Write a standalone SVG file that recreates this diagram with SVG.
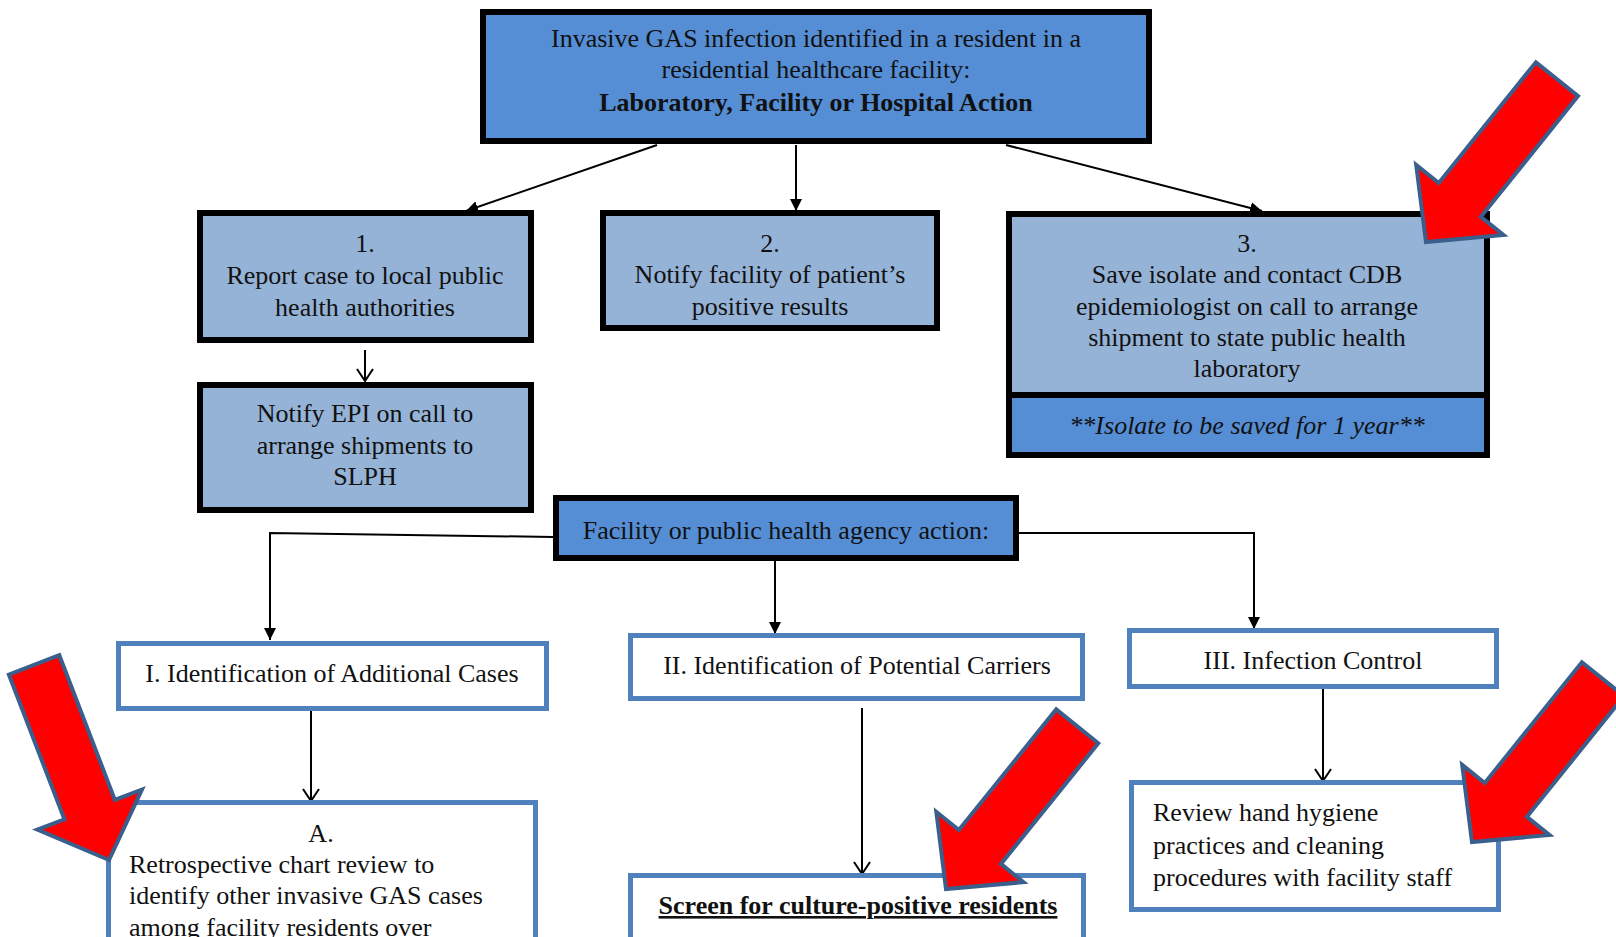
<svg xmlns="http://www.w3.org/2000/svg" width="1616" height="937" viewBox="0 0 1616 937">
<defs>
<style>
text{font-family:"Liberation Serif","Times New Roman",serif;font-size:26px;fill:#111}
.c{text-anchor:middle}
.b{font-weight:bold}
.dark{fill:#558ED5;stroke:#000;stroke-width:6}
.light{fill:#95B3D7;stroke:#000;stroke-width:6}
.blue{fill:#fff;stroke:#4F81BD;stroke-width:5}
.con{fill:none;stroke:#000;stroke-width:2}
.f{marker-end:url(#fa)}
.o{marker-end:url(#oa)}
.red{fill:#FF0000;stroke:#3A5F8C;stroke-width:4;stroke-linejoin:miter}
</style>
<marker id="fa" markerUnits="userSpaceOnUse" markerWidth="12" markerHeight="12" viewBox="0 0 12 12" refX="12" refY="6" orient="auto">
<path d="M0,0 L12,6 L0,12 z" fill="#000"/>
</marker>
<marker id="oa" markerUnits="userSpaceOnUse" markerWidth="14" markerHeight="20" viewBox="0 0 14 20" refX="13" refY="10" orient="auto">
<path d="M1,2 L13,10 L1,18" fill="none" stroke="#000" stroke-width="2"/>
</marker>
<polygon id="redArrow" class="red" points="-209,-27 -54,-27 -54,-56 0,0 -54,56 -54,27 -209,27"/>
</defs>
<rect width="1616" height="937" fill="#fff"/>

<g id="connectors">
<path class="con f" d="M657,145 L466,211"/>
<path class="con f" d="M796,145 L796,211"/>
<path class="con f" d="M1006,145 L1262,211"/>
<path class="con o" d="M365,350 L365,381"/>
<path class="con f" d="M553,537 L270,533 L270,640"/>
<path class="con f" d="M775,561 L775,634"/>
<path class="con f" d="M1019,533 L1254,533 L1254,629"/>
<path class="con o" d="M311,711 L311,801"/>
<path class="con o" d="M862,708 L862,874"/>
<path class="con o" d="M1323,689 L1323,781"/>
</g>

<g id="top">
<rect class="dark" x="483" y="12" width="666" height="129"/>
<text class="c" x="816" y="47">Invasive GAS infection identified in a resident in a</text>
<text class="c" x="816" y="78">residential healthcare facility:</text>
<text class="c b" x="816" y="111">Laboratory, Facility or Hospital Action</text>
</g>

<g id="step1">
<rect class="light" x="200" y="213" width="331" height="127"/>
<text class="c" x="365" y="252">1.</text>
<text class="c" x="365" y="284">Report case to local public</text>
<text class="c" x="365" y="316">health authorities</text>
</g>

<g id="step2">
<rect class="light" x="603" y="213" width="334" height="115"/>
<text class="c" x="770" y="252">2.</text>
<text class="c" x="770" y="283">Notify facility of patient’s</text>
<text class="c" x="770" y="315">positive results</text>
</g>

<g id="step3">
<rect class="light" x="1009" y="214" width="478" height="181"/>
<rect class="dark" x="1009" y="395" width="478" height="60"/>
<text class="c" x="1247" y="252">3.</text>
<text class="c" x="1247" y="283">Save isolate and contact CDB</text>
<text class="c" x="1247" y="315">epidemiologist on call to arrange</text>
<text class="c" x="1247" y="346">shipment to state public health</text>
<text class="c" x="1247" y="377">laboratory</text>
<text class="c" x="1247" y="434" font-style="italic">**Isolate to be saved for 1 year**</text>
</g>

<g id="epi">
<rect class="light" x="200" y="385" width="331" height="125"/>
<text class="c" x="365" y="422">Notify EPI on call to</text>
<text class="c" x="365" y="454">arrange shipments to</text>
<text class="c" x="365" y="485">SLPH</text>
</g>

<g id="facility">
<rect class="dark" x="556" y="498" width="460" height="60"/>
<text class="c" x="786" y="539">Facility or public health agency action:</text>
</g>

<g id="ident-cases">
<rect class="blue" x="118.5" y="643.5" width="428" height="65"/>
<text class="c" x="332" y="682">I. Identification of Additional Cases</text>
</g>

<g id="ident-carriers">
<rect class="blue" x="630.5" y="635.5" width="452" height="63"/>
<text class="c" x="857" y="674">II. Identification of Potential Carriers</text>
</g>

<g id="infection-control">
<rect class="blue" x="1129.5" y="630.5" width="367" height="56"/>
<text class="c" x="1313" y="669">III. Infection Control</text>
</g>

<g id="boxA">
<rect class="blue" x="108.5" y="802.5" width="427" height="200"/>
<text class="c" x="321" y="842">A.</text>
<text x="129" y="873">Retrospective chart review to</text>
<text x="129" y="904">identify other invasive GAS cases</text>
<text x="129" y="936">among facility residents over</text>
</g>

<g id="screen">
<rect class="blue" x="630.5" y="875.5" width="453" height="100"/>
<text class="c b" x="858" y="914" text-decoration="underline">Screen for culture-positive residents</text>
</g>

<g id="review">
<rect class="blue" x="1131.5" y="782.5" width="367" height="127"/>
<text x="1153" y="821">Review hand hygiene</text>
<text x="1153" y="854">practices and cleaning</text>
<text x="1153" y="886">procedures with facility staff</text>
</g>

<g id="red-arrows">
<use href="#redArrow" transform="translate(1426,242) rotate(128.8)"/>
<use href="#redArrow" transform="translate(109,860) rotate(69)"/>
<use href="#redArrow" transform="translate(946,889) rotate(128.9)"/>
<use href="#redArrow" transform="translate(1472,842) rotate(128.8)"/>
</g>
</svg>
